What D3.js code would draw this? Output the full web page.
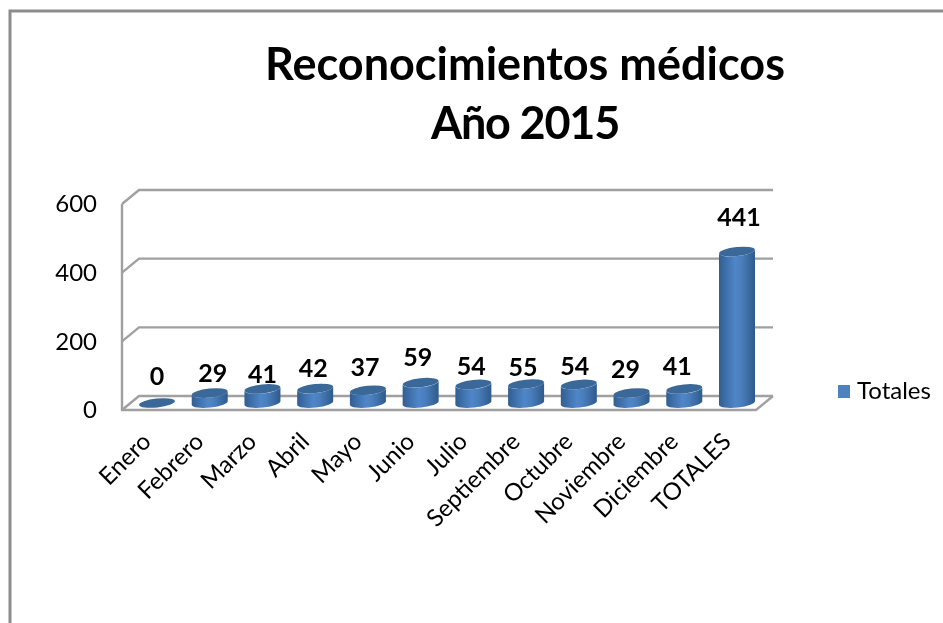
<!DOCTYPE html>
<html>
<head>
<meta charset="utf-8">
<title>Reconocimientos médicos</title>
<script src="https://cdn.jsdelivr.net/npm/d3@7/dist/d3.min.js"></script>
<style>
  html, body { margin: 0; padding: 0; background: #fff; }
  svg { display: block; filter: blur(0.4px); }
  text { font-family: Lato, "Open Sans", sans-serif; }
</style>
</head>
<body>
<svg id="chart" width="943" height="623"></svg>
<script>
// values
var months = ["Enero", "Febrero", "Marzo", "Abril", "Mayo", "Junio", "Julio", "Septiembre", "Octubre", "Noviembre", "Diciembre", "TOTALES"];
var totals = [0, 29, 41, 42, 37, 59, 54, 55, 54, 29, 41, 441];
var yTicks = [0, 200, 400, 600];
var titleLines = ["Reconocimientos médicos", "Año 2015"];
var seriesName = "Totales";

var svg = d3.select("#chart");

// depth of the fake 3d box
var depthX = 17, depthY = 14;
var rx = 18, ry = 4.5, tilt = 2;

var x = d3.scalePoint().domain(months).range([157, 737]);
var y = d3.scaleLinear().domain([0, 600]).range([410, 204]);
var wallLeft = 122, floorRight = 756;

// bar gradient
var grad = svg.append("defs").append("linearGradient").attr("id", "barFill");
grad.append("stop").attr("offset", "0%").attr("stop-color", "#315e92");
grad.append("stop").attr("offset", "45%").attr("stop-color", "#4f86c9");
grad.append("stop").attr("offset", "62%").attr("stop-color", "#4a7fbd");
grad.append("stop").attr("offset", "100%").attr("stop-color", "#2f5a8b");

// outer frame, only top and left are visible
svg.append("path")
  .attr("d", "M10,623V11H943")
  .attr("fill", "none")
  .attr("stroke", "#8c8c8c")
  .attr("stroke-width", 3);

// title
svg.append("g").selectAll("text")
  .data(titleLines)
  .enter().append("text")
  .attr("x", 525)
  .attr("y", function (d, i) { return 80 + i * 59; })
  .attr("text-anchor", "middle")
  .attr("font-size", 45)
  .attr("font-weight", "bold")
  .attr("letter-spacing", function (d, i) { return i ? -1.2 : 0; })
  .attr("fill", "#000")
  .text(function (d) { return d; });

// walls and gridlines
var gridColor = "#a0a0a0";
var grid = svg.append("g").attr("fill", "none").attr("stroke", gridColor).attr("stroke-width", 2.4);
grid.selectAll("path.grid")
  .data(yTicks)
  .enter().append("path")
  .attr("class", "grid")
  .attr("d", function (d) {
    var py = y(d);
    return "M" + wallLeft + "," + py + "L" + (wallLeft + depthX) + "," + (py - depthY) + "H" + (floorRight + depthX);
  });
grid.append("path").attr("d", "M" + wallLeft + "," + y(600) + "V" + y(0) + "H" + floorRight + "L" + (floorRight + depthX) + "," + (y(0) - depthY));

// bars
var bars = svg.append("g").selectAll("g")
  .data(months)
  .enter().append("g");

bars.append("path")
  .attr("fill", "url(#barFill)")
  .attr("d", function (d, i) {
    var cx = x(d), base = y(0) - depthY / 2, top = y(totals[i]) - depthY / 2;
    return "M" + (cx - rx) + "," + (base + tilt)
      + "A" + rx + "," + ry + " -6 0 0 " + (cx + rx) + "," + (base - tilt)
      + "V" + (top - tilt)
      + "A" + rx + "," + ry + " -6 0 1 " + (cx - rx) + "," + (top + tilt) + "Z";
  });

bars.append("ellipse")
  .attr("rx", rx)
  .attr("ry", ry)
  .attr("fill", "#3a6899")
  .attr("transform", function (d, i) {
    return "translate(" + x(d) + "," + (y(totals[i]) - depthY / 2) + ") rotate(-6)";
  });

// data labels, excel left them slightly off the bars
var labelDx = [0, 3, 0, -2, -3, -3, -2, -3, -4, -6, -7, 2];
var labelGap = [18.5, 11.5, 5.5, 11.5, 14.5, 16.5, 9, 8.5, 9, 15.5, 13.5, 25.5];
svg.append("g").selectAll("text")
  .data(totals)
  .enter().append("text")
  .attr("x", function (d, i) { return x(months[i]) + labelDx[i]; })
  .attr("y", function (d, i) { return y(d) - depthY / 2 - labelGap[i]; })
  .attr("text-anchor", "middle")
  .attr("font-size", 25)
  .attr("font-weight", "bold")
  .attr("fill", "#000")
  .text(function (d) { return d; });

// axes
var yAxis = svg.append("g")
  .attr("transform", "translate(" + wallLeft + ",0)")
  .call(d3.axisLeft(y).tickValues(yTicks).tickSize(0).tickPadding(25));
yAxis.select(".domain").remove();
yAxis.selectAll("text").attr("font-size", 24).attr("fill", "#000").style("font-family", "Lato");

var xAxis = svg.append("g")
  .attr("transform", "translate(0," + y(0) + ")")
  .call(d3.axisBottom(x).tickSize(0));
xAxis.select(".domain").remove();
xAxis.selectAll("text")
  .attr("font-size", 24)
  .attr("fill", "#000")
  .style("font-family", "Lato")
  .attr("text-anchor", "end")
  .attr("dy", 0)
  .attr("y", 0)
  .attr("transform", "translate(-5,33) rotate(-45)");

// legend
var legend = svg.append("g").attr("transform", "translate(838,385)");
legend.append("rect").attr("width", 12).attr("height", 13).attr("fill", "#4f81bd");
legend.append("text")
  .attr("x", 19)
  .attr("y", 14)
  .attr("font-size", 24)
  .attr("fill", "#000")
  .text(seriesName);
</script>
</body>
</html>
